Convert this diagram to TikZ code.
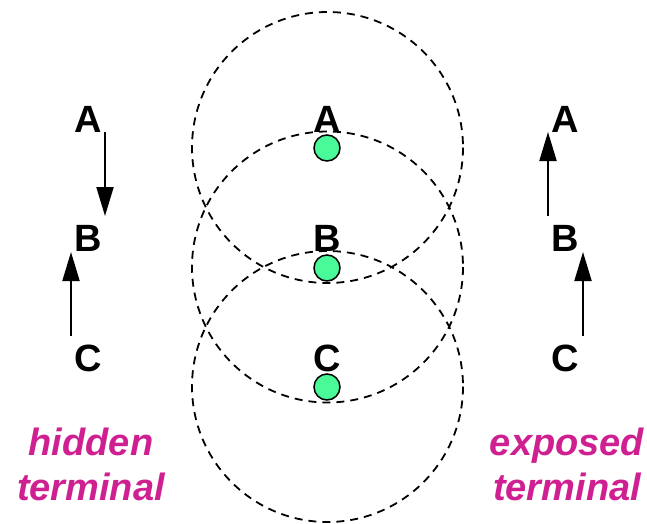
\documentclass[tikz,border=0pt]{standalone}
\usepackage{fontspec}
\setmainfont{Liberation Sans}
\usetikzlibrary{arrows.meta}
\definecolor{labelmagenta}{RGB}{207,32,146}
\definecolor{nodegreen}{RGB}{74,250,152}
\begin{document}
\begin{tikzpicture}[x=1pt,y=-1pt,
  station/.style={inner sep=0pt,anchor=base,font=\fontsize{38}{45}\selectfont\bfseries},
  coverage/.style={draw,dash pattern=on 8pt off 6pt,line width=1.8pt},
  radio/.style={draw,line width=1.5pt,fill=nodegreen},
  arr/.style={line width=2pt,-{Triangle[length=29pt,width=17pt]}},
  caption/.style={inner sep=0pt,anchor=north,align=center,text=labelmagenta,
    font=\fontsize{38}{45}\selectfont\bfseries\itshape}]
\useasboundingbox (0,0) rectangle (647,523);

% transmission ranges of the three stations
\draw[coverage] (327.5,147.5) circle[radius=135.5];
\draw[coverage] (327.5,267) circle[radius=135.5];
\draw[coverage] (327.5,386.5) circle[radius=135.5];

% middle column: stations with their radios
\node[station] (mA) at (327,132) {A};
\node[station] (mB) at (327,251) {B};
\node[station] (mC) at (327,371) {C};
\filldraw[radio] (327,148) circle[radius=13];
\filldraw[radio] (327,268) circle[radius=13];
\filldraw[radio] (327,387) circle[radius=13];

% left column: hidden terminal
\node[station] (lA) at (88,132) {A};
\node[station] (lB) at (88,251) {B};
\node[station] (lC) at (88,371) {C};
\coordinate (lAB1) at (105,132);
\coordinate (lAB2) at (105,216);
\coordinate (lCB1) at (71,336);
\coordinate (lCB2) at (71,252);
\draw[arr] (lAB1) -- (lAB2);
\draw[arr] (lCB1) -- (lCB2);

% right column: exposed terminal
\node[station] (rA) at (565,132) {A};
\node[station] (rB) at (565,251) {B};
\node[station] (rC) at (565,371) {C};
\coordinate (rBA1) at (548,216);
\coordinate (rBA2) at (548,132);
\coordinate (rCB1) at (583,336);
\coordinate (rCB2) at (583,252);
\draw[arr] (rBA1) -- (rBA2);
\draw[arr] (rCB1) -- (rCB2);

% captions
\node[caption] (hid) at (91,428) {hidden\\terminal};
\node[caption] (exp) at (567,428) {exposed\\terminal};
\end{tikzpicture}
\end{document}
